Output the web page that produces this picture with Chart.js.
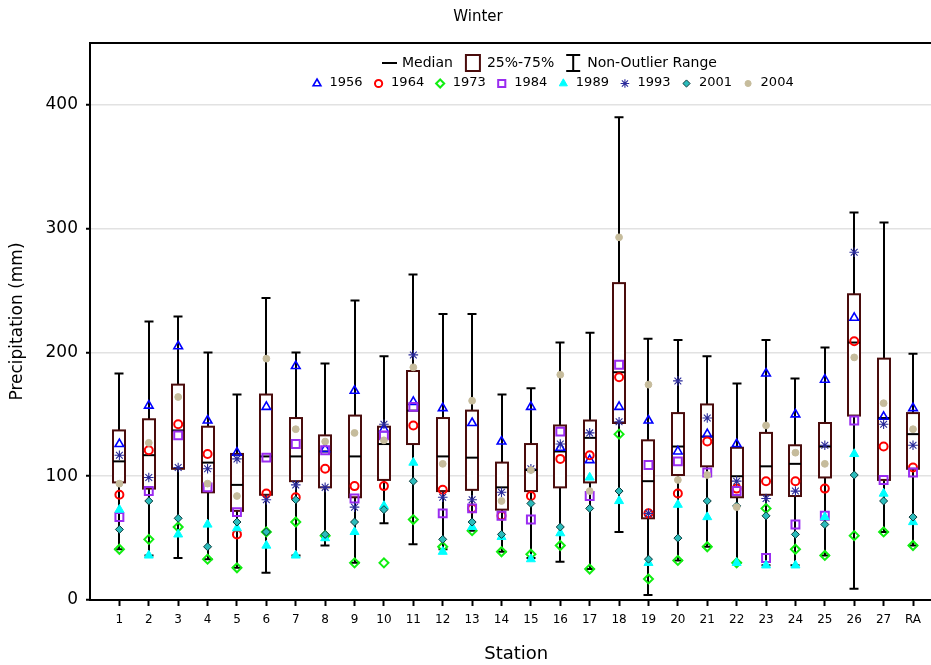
<!DOCTYPE html>
<html>
<head>
<meta charset="utf-8">
<title>Winter</title>
<script src="https://cdn.jsdelivr.net/npm/chart.js@4.4.1/dist/chart.umd.min.js"></script>
<style>
  html, body { margin: 0; padding: 0; background: #fff; overflow: hidden; }
  #wrap { width: 950px; height: 665px; position: relative; }
</style>
</head>
<body>
<div id="wrap"><canvas id="chart"></canvas></div>
<script>
// stations on the x axis
const stations = ["1","2","3","4","5","6","7","8","9","10","11","12","13","14",
  "15","16","17","18","19","20","21","22","23","24","25","26","27","RA"];
const yTicks = [0, 100, 200, 300, 400];

// box plot summary per station
const whiskerLow  = [41,36,34,33,26,22,36,44,30,62,45,41,56,39,34,31,25,55,4,32,43,30,28,28,36,9,55,44];
const q1          = [95,90,106,87,72,85,96,91,83,97,126,88,89,73,88,91,95,143,66,101,108,83,85,84,99,149,97,106];
const median      = [112,117,137,111,93,116,116,120,116,126,153,116,115,91,105,120,131,184,96,124,132,100,108,110,124,208,147,134];
const q3          = [137,146,174,140,118,166,147,133,149,140,185,147,153,111,126,141,145,256,129,151,158,123,135,125,143,247,195,151];
const whiskerHigh = [183,225,229,200,166,244,200,191,242,197,263,231,231,166,171,208,216,390,211,210,197,175,210,179,204,313,305,199];

// yearly values per station
const y1956 = [126,157,205,145,119,156,189,122,169,138,160,155,143,128,156,123,113,156,145,120,134,126,183,150,178,228,148,155];
const y1964 = [85,121,142,118,53,86,83,106,92,92,141,89,74,68,84,114,117,180,70,86,128,90,96,96,90,209,124,107];
const y1973 = [41,49,59,33,26,55,63,52,30,30,65,43,56,39,37,44,25,134,17,32,43,30,74,41,36,52,55,44];
const y1984 = [67,88,133,91,71,115,126,121,82,133,156,70,74,68,65,136,84,190,109,112,103,88,34,61,68,145,97,103];
const y1989 = [73,36,53,61,58,44,36,50,55,76,111,39,59,51,33,54,99,80,30,77,67,30,28,28,67,118,86,63];
const y1993 = [117,99,107,106,114,81,93,91,75,142,198,83,81,87,106,126,135,144,70,177,147,96,82,88,125,281,142,125];
const y2001 = [57,80,66,43,63,55,81,53,63,73,96,49,63,53,78,59,74,88,33,50,80,76,68,53,61,101,80,67];
const y2004 = [94,127,164,94,84,195,138,128,135,129,188,110,161,80,105,182,88,293,174,97,101,75,141,119,110,196,159,138];

const FONT = "'DejaVu Sans', Verdana, sans-serif";
const BOX_COLOR = "#4a0c0c";

// marker style for each year
const series = [
  { label: "1956", values: y1956, pointStyle: "triangle", radius: 5,   bg: "rgba(0,0,0,0)", border: "#0000ff", bw: 1.6 },
  { label: "1964", values: y1964, pointStyle: "circle",   radius: 4,   bg: "rgba(0,0,0,0)", border: "#ff0000", bw: 2 },
  { label: "1973", values: y1973, pointStyle: "rectRot",  radius: 4.5, bg: "rgba(0,0,0,0)", border: "#11ee11", bw: 2 },
  { label: "1984", values: y1984, pointStyle: "rect",     radius: 5.6, bg: "rgba(0,0,0,0)", border: "#9a2cf0", bw: 2 },
  { label: "1989", values: y1989, pointStyle: "triangle", radius: 5.2, bg: "#00ffff",       border: "#00ffff", bw: 1 },
  { label: "1993", values: y1993, pointStyle: "star",     radius: 4.8, bg: "#2a2a9a",       border: "#2a2a9a", bw: 1.1 },
  { label: "2001", values: y2001, pointStyle: "rectRot",  radius: 4,   bg: "#2cbcbc",       border: "#063a3a", bw: 1 },
  { label: "2004", values: y2004, pointStyle: "circle",   radius: 3.4, bg: "#c6bc9c",       border: "#c6bc9c", bw: 1 }
];

// boxes, whiskers and medians under the points
const boxPlugin = {
  id: "boxes",
  beforeDatasetsDraw(chart) {
    const { ctx } = chart;
    const x = chart.scales.x, y = chart.scales.y;
    const half = 6, cap = 4.5;
    ctx.save();
    stations.forEach((s, i) => {
      const cx = Math.round(x.getPixelForValue(i));
      const lo = y.getPixelForValue(whiskerLow[i]);
      const hi = y.getPixelForValue(whiskerHigh[i]);
      const b1 = y.getPixelForValue(q1[i]);
      const b3 = y.getPixelForValue(q3[i]);
      const md = y.getPixelForValue(median[i]);
      ctx.strokeStyle = "#000";
      ctx.lineWidth = 2;
      ctx.beginPath();
      ctx.moveTo(cx, lo); ctx.lineTo(cx, hi);
      ctx.moveTo(cx - cap, lo); ctx.lineTo(cx + cap, lo);
      ctx.moveTo(cx - cap, hi); ctx.lineTo(cx + cap, hi);
      ctx.stroke();
      ctx.fillStyle = "#fff";
      ctx.fillRect(cx - half, b3, half * 2, b1 - b3);
      ctx.strokeStyle = BOX_COLOR;
      ctx.strokeRect(cx - half, b3, half * 2, b1 - b3);
      ctx.strokeStyle = "#000";
      ctx.beginPath();
      ctx.moveTo(cx - half, md); ctx.lineTo(cx + half, md);
      ctx.stroke();
    });
    ctx.restore();
  }
};

// frame top line, title and the two-row legend
const decorPlugin = {
  id: "decor",
  afterDraw(chart) {
    const { ctx, chartArea } = chart;
    ctx.save();
    ctx.strokeStyle = "#000";
    ctx.lineWidth = 2;
    ctx.beginPath();
    ctx.moveTo(chartArea.left - 1, chartArea.top);
    ctx.lineTo(chartArea.right + 10, chartArea.top);
    ctx.stroke();

    ctx.fillStyle = "#000";
    ctx.textBaseline = "middle";
    ctx.textAlign = "center";
    ctx.font = "15px " + FONT;
    ctx.fillText("Winter", 478, 17);

    // row 1
    ctx.textAlign = "left";
    ctx.font = "14px " + FONT;
    let lx = 382, ly = 63;
    ctx.beginPath();
    ctx.moveTo(lx, ly); ctx.lineTo(lx + 15, ly);
    ctx.stroke();
    ctx.fillText("Median", lx + 20, ly);
    lx += 20 + ctx.measureText("Median").width + 13;
    ctx.strokeStyle = BOX_COLOR;
    ctx.strokeRect(lx, ly - 8, 14, 16);
    ctx.fillText("25%-75%", lx + 21, ly);
    lx += 21 + ctx.measureText("25%-75%").width + 12;
    ctx.strokeStyle = "#000";
    ctx.beginPath();
    ctx.moveTo(lx + 7, ly - 8); ctx.lineTo(lx + 7, ly + 8);
    ctx.moveTo(lx, ly - 8); ctx.lineTo(lx + 14, ly - 8);
    ctx.moveTo(lx, ly + 8); ctx.lineTo(lx + 14, ly + 8);
    ctx.stroke();
    ctx.fillText("Non-Outlier Range", lx + 21, ly);

    // row 2
    ctx.font = "13px " + FONT;
    lx = 317; ly = 83;
    series.forEach(s => {
      ctx.fillStyle = s.bg;
      ctx.strokeStyle = s.border;
      ctx.lineWidth = s.bw;
      Chart.helpers.drawPoint(ctx, {
        pointStyle: s.pointStyle, radius: s.radius * 0.9, rotation: 0, borderWidth: s.bw
      }, lx, ly + 0.5);
      ctx.fillStyle = "#000";
      ctx.fillText(s.label, lx + 12.5, ly);
      lx += 12.5 + ctx.measureText(s.label).width + 16;
    });
    ctx.restore();
  }
};

const datasets = series.map(s => ({
  label: s.label,
  data: s.values.map((v, i) => ({ x: i, y: v })),
  pointStyle: s.pointStyle,
  pointRadius: s.radius,
  pointBackgroundColor: s.bg,
  pointBorderColor: s.border,
  pointBorderWidth: s.bw,
  showLine: false
})).reverse();

new Chart(document.getElementById("chart"), {
  type: "scatter",
  data: { datasets },
  options: {
    responsive: true,
    maintainAspectRatio: false,
    animation: false,
    events: [],
    layout: { padding: { top: 43, right: 6, left: 0, bottom: 0 } },
    plugins: { legend: { display: false }, tooltip: { enabled: false }, title: { display: false } },
    scales: {
      x: {
        type: "linear",
        min: -1,
        max: 28,
        afterBuildTicks: s => { s.ticks = stations.map((_, i) => ({ value: i })); },
        afterFit: s => { s.height = 65; },
        ticks: {
          autoSkip: false, maxRotation: 0, color: "#000", padding: 7,
          font: { family: FONT, size: 12 },
          callback: v => stations[v] ?? ""
        },
        grid: { drawOnChartArea: false, drawTicks: true, tickLength: 6, tickWidth: 2, tickColor: "#000" },
        border: { display: true, color: "#000", width: 2 },
        title: { display: true, text: "Station", color: "#000", font: { family: FONT, size: 18 }, padding: { top: 2, bottom: 0 } }
      },
      y: {
        min: 0,
        max: 450,
        afterBuildTicks: s => { s.ticks = yTicks.map(v => ({ value: v })); },
        afterFit: s => { s.width = 90; },
        ticks: { color: "#000", padding: 8, font: { family: FONT, size: 17 } },
        grid: { color: "#e2e2e2", lineWidth: 1.5, drawTicks: true, tickLength: 4, tickWidth: 2, tickColor: "#000" },
        border: { display: true, color: "#000", width: 2 },
        title: { display: true, text: "Precipitation (mm)", color: "#000", font: { family: FONT, size: 17 }, padding: { top: 7, bottom: 0 } }
      }
    }
  },
  plugins: [boxPlugin, decorPlugin]
});
</script>
</body>
</html>
